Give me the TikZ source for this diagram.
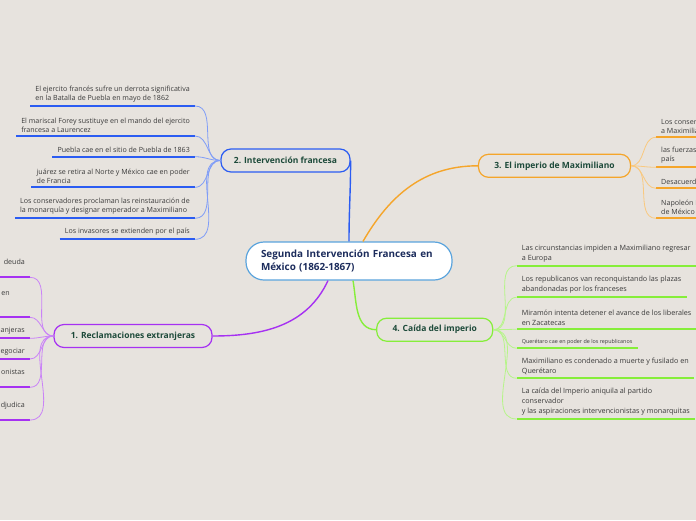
\documentclass[tikz,border=0pt]{standalone}
\usepackage{fontspec}
\setmainfont{Open Sans}
\usetikzlibrary{calc}
\definecolor{bgpaper}{HTML}{E7E3DE}
\definecolor{rootblue}{HTML}{5BA4DD}
\definecolor{rootink}{HTML}{1C2C5C}
\definecolor{titleink}{HTML}{1D4A3A}
\definecolor{leafink}{HTML}{3A3A3A}
\definecolor{frblue}{HTML}{2B5CF2}
\definecolor{rcpurple}{HTML}{A631F2}
\definecolor{imporange}{HTML}{F5A52A}
\definecolor{fallgreen}{HTML}{86EE3A}

\begin{document}
\begin{tikzpicture}[x=1pt, y=1pt,
  every node/.style={font=\fontsize{7.1}{9}\selectfont, text=leafink},
  root/.style={draw=rootblue, line width=1.2pt, fill=white, rounded corners=18pt,
               minimum width=206pt, minimum height=38pt, text=rootink,
               font=\fontsize{9.9}{12.5}\selectfont\bfseries, align=left, text width=176pt},
  topic/.style={draw=#1, line width=1.2pt, fill=bgpaper, rounded corners=10pt,
                minimum height=23pt, text=titleink, font=\fontsize{8.5}{10}\selectfont\bfseries},
  leaf/.style={align=left, inner xsep=5pt, inner ysep=3.5pt},
  wleaf/.style={leaf, anchor=south east},
  eleaf/.style={leaf, anchor=south west},
  gleaf/.style={eleaf, font=\fontsize{7.2}{10}\selectfont},
  uline/.style={line width=2.2pt, draw=#1},
  link/.style={line width=0.8pt, draw=#1!60},
  stem/.style={line width=1.4pt, draw=#1}
]
\useasboundingbox[fill=bgpaper] (0,0) rectangle (696,-520);

%% central topic
\node[root] (c) at (349,-261) {Segunda Intervención Francesa en\\México (1862-1867)};

%% main branches
\node[topic=rcpurple,  minimum width=158pt] (b1) at (133,-336)     {1. Reclamaciones extranjeras};
\node[topic=frblue,    minimum width=129pt] (b2) at (285.5,-160.5) {2. Intervención francesa};
\node[topic=imporange, minimum width=152pt] (b3) at (554.5,-165.8) {3. El imperio de Maximiliano};
\node[topic=fallgreen, minimum width=116pt] (b4) at (434.7,-329.7) {4. Caída del imperio};

\draw[stem=frblue]    (b2.east) to[out=-90,in=90] (c.north);
\draw[stem=imporange] ($(c.north)+(14,0)$) to[out=60,in=180] (b3.west);
\draw[stem=fallgreen] ($(c.south)+(4,0)$) to[out=-80,in=180] (b4.west);
\draw[stem=rcpurple]  ($(c.south)+(-21,0)$) to[out=-115,in=0] (b1.east);

%% 2. Intervencion francesa
\node[wleaf] (f1) at (195,-106)   {El ejercito francés sufre un derrota significativa\\en la Batalla de Puebla en mayo de 1862};
\node[wleaf] (f2) at (195,-136)   {El mariscal Forey sustituye en el mando del ejercito\\francesa a Laurencez};
\node[wleaf] (f3) at (195,-156.7) {Puebla cae en el sitio de Puebla de 1863};
\node[wleaf] (f4) at (195,-187.3) {juárez se retira al Norte y México cae en poder\\de Francia};
\node[wleaf] (f5) at (195,-218.3) {Los conservadores proclaman las reinstauración de\\la monarquía y designar emperador a Maximiliano};
\node[wleaf] (f6) at (195,-239.3) {Los invasores se extienden por el país};

\foreach \n in {f1,f2,f3,f4,f5,f6} {
  \draw[uline=frblue] (\n.south west) -- (\n.south east);
  \draw[link=frblue] (\n.south east) to[out=0,in=180] (b2.west);
}

%% 1. Reclamaciones extranjeras
\node[wleaf, align=right] (r1) at (30,-277.3) {deuda\\\mbox{}};
\node[wleaf, align=right] (r2) at (30,-317.3) {en\hspace*{15pt}\\\mbox{}\\\mbox{}};
\node[wleaf, align=right] (r3) at (30,-338.3) {anjeras};
\node[wleaf, align=right] (r4) at (30,-359)   {egociar};
\node[wleaf, align=right] (r5) at (30,-387.3) {onistas\\\mbox{}};
\node[wleaf, align=right] (r6) at (30,-420)   {djudica\\\mbox{}};

\foreach \n in {r1,r2,r3,r4,r5,r6} {
  \draw[uline=rcpurple] (\n.south west) -- (\n.south east);
  \draw[link=rcpurple] (\n.south east) to[out=0,in=180] (b1.west);
}

%% 3. El imperio de Maximiliano
\node[eleaf] (m1) at (656,-137.3) {Los conservadores\\a Maximiliano};
\node[eleaf] (m2) at (656,-167.3) {las fuerzas\\país};
\node[eleaf] (m3) at (656,-188.3) {Desacuerdos};
\node[eleaf] (m4) at (656,-218.3) {Napoleón III\\de México};

\foreach \n in {m1,m2,m3,m4} {
  \draw[uline=imporange] (\n.south west) -- (\n.south east);
  \draw[link=imporange] (b3.east) to[out=0,in=180] (\n.south west);
}

%% 4. Caida del imperio
\node[gleaf] (g1) at (516.7,-265.7) {Las circunstancias impiden a Maximiliano regresar\\a Europa};
\node[gleaf] (g2) at (516.7,-297.3) {Los republicanos van reconquistando las plazas\\abandonadas por los franceses};
\node[gleaf] (g3) at (516.7,-329.3) {Miramón intenta detener el avance de los liberales\\en Zacatecas};
\node[gleaf, font=\fontsize{5.4}{7}\selectfont] (g4) at (516.7,-348.3) {Querétaro cae en poder de los republicanos};
\node[gleaf] (g5) at (516.7,-378.3) {Maximiliano es condenado a muerte y fusilado en\\Querétaro};
\node[gleaf] (g6) at (516.7,-419)   {La caída del Imperio aniquila al partido\\conservador\\y las aspiraciones intervencionistas y monarquitas};

\foreach \n in {g1,g2,g3,g4,g5,g6} {
  \draw[uline=fallgreen] (\n.south west) -- (\n.south east);
  \draw[link=fallgreen] (b4.east) to[out=0,in=180] (\n.south west);
}

\end{tikzpicture}
\end{document}
